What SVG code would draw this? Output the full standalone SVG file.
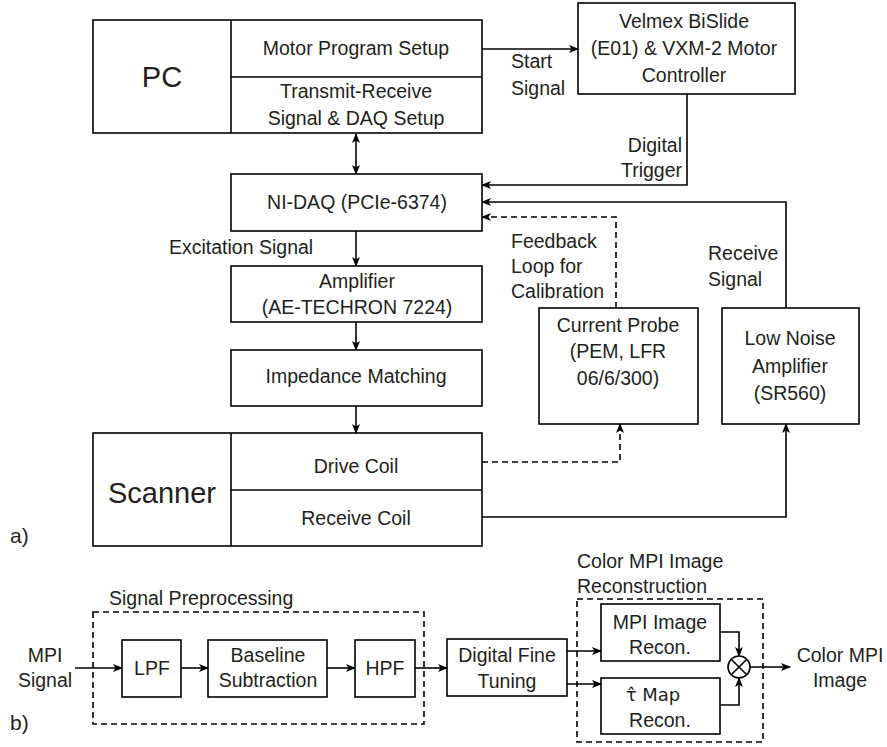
<svg xmlns="http://www.w3.org/2000/svg" width="887" height="747" viewBox="0 0 887 747">
<style>
text{font-family:"Liberation Sans",Arial,sans-serif;font-size:19.5px;fill:#231f20}
.c{text-anchor:middle}
.big{font-size:29px}
.box{fill:#fff;stroke:#000;stroke-width:1.6}
.ln{fill:none;stroke:#000;stroke-width:1.6}
.dash{fill:none;stroke:#000;stroke-width:1.6;stroke-dasharray:6,4}
.ar{marker-end:url(#ah)}
</style>
<defs>
<marker id="ah" viewBox="0 0 10 8" refX="9" refY="4" markerWidth="10" markerHeight="8" markerUnits="userSpaceOnUse" orient="auto-start-reverse">
<path d="M0,0 L10,4 L0,8 L2.5,4 z" fill="#000"/>
</marker>
</defs>
<rect width="887" height="747" fill="#fff"/>

<g id="connectors">
<line class="ln ar" x1="482" y1="49" x2="578" y2="49"/>
<line class="ln ar" x1="356" y1="134" x2="356" y2="174" style="marker-start:url(#ah)"/>
<polyline class="ln ar" points="687,94 687,185 482,185"/>
<polyline class="ln ar" points="786,308 786,202 482,202"/>
<polyline class="dash ar" points="616,308 616,217 482,217"/>
<line class="ln ar" x1="356" y1="231" x2="356" y2="266"/>
<line class="ln ar" x1="356" y1="322" x2="356" y2="350"/>
<line class="ln ar" x1="356" y1="406" x2="356" y2="433"/>
<polyline class="dash ar" points="482,462 620,462 620,424"/>
<polyline class="ln ar" points="482,517 786,517 786,424"/>
<line class="ln ar" x1="75" y1="668" x2="122" y2="668"/>
<line class="ln ar" x1="181" y1="668" x2="208" y2="668"/>
<line class="ln ar" x1="327" y1="668" x2="355" y2="668"/>
<line class="ln ar" x1="415" y1="668" x2="447" y2="668"/>
<line class="ln ar" x1="567" y1="651" x2="601" y2="651"/>
<line class="ln ar" x1="567" y1="684" x2="601" y2="684"/>
<polyline class="ln ar" points="720,632 739,632 739,656"/>
<polyline class="ln ar" points="720,705 739,705 739,678"/>
<line class="ln ar" x1="750" y1="667" x2="790" y2="667"/>
<text x="511" y="68">Start</text>
<text x="511" y="95">Signal</text>
<text x="682" y="152" text-anchor="end">Digital</text>
<text x="682" y="177" text-anchor="end">Trigger</text>
<text x="169" y="254">Excitation Signal</text>
<text x="511" y="248">Feedback</text>
<text x="511" y="273">Loop for</text>
<text x="511" y="298">Calibration</text>
<text x="708" y="260">Receive</text>
<text x="708" y="286">Signal</text>
<text class="c" x="45" y="662">MPI</text>
<text class="c" x="45" y="687">Signal</text>
<text class="c" x="840" y="662">Color MPI</text>
<text class="c" x="840" y="687">Image</text>
</g>

<g id="pc">
<rect class="box" x="93" y="20" width="389" height="113"/>
<line class="ln" x1="231" y1="20" x2="231" y2="133"/>
<line class="ln" x1="231" y1="77" x2="482" y2="77"/>
<text class="c big" x="162" y="87">PC</text>
<text class="c" x="356" y="55">Motor Program Setup</text>
<text class="c" x="356" y="98">Transmit-Receive</text>
<text class="c" x="356" y="125">Signal &amp; DAQ Setup</text>
</g>

<g id="velmex">
<rect class="box" x="578" y="3" width="217" height="91"/>
<text class="c" x="684" y="28">Velmex BiSlide</text>
<text class="c" x="684" y="55">(E01) &amp; VXM-2 Motor</text>
<text class="c" x="684" y="82">Controller</text>
</g>

<g id="nidaq">
<rect class="box" x="231" y="174" width="251" height="57"/>
<text class="c" x="357" y="209">NI-DAQ (PCIe-6374)</text>
</g>

<g id="amplifier">
<rect class="box" x="231" y="266" width="251" height="56"/>
<text class="c" x="357" y="288">Amplifier</text>
<text class="c" x="357" y="314">(AE-TECHRON 7224)</text>
</g>

<g id="impedance">
<rect class="box" x="231" y="350" width="251" height="56"/>
<text class="c" x="356" y="383">Impedance Matching</text>
</g>

<g id="scanner">
<rect class="box" x="93" y="433" width="389" height="113"/>
<line class="ln" x1="231" y1="433" x2="231" y2="546"/>
<line class="ln" x1="231" y1="490" x2="482" y2="490"/>
<text class="c big" x="162" y="503">Scanner</text>
<text class="c" x="356" y="473">Drive Coil</text>
<text class="c" x="356" y="525">Receive Coil</text>
</g>

<g id="currentprobe">
<rect class="box" x="539" y="308" width="159" height="116"/>
<text class="c" x="618" y="332">Current Probe</text>
<text class="c" x="618" y="358">(PEM, LFR</text>
<text class="c" x="618" y="385">06/6/300)</text>
</g>

<g id="lna">
<rect class="box" x="722" y="308" width="137" height="116"/>
<text class="c" x="790" y="345">Low Noise</text>
<text class="c" x="790" y="373">Amplifier</text>
<text class="c" x="790" y="400">(SR560)</text>
</g>

<g id="labels">
<text x="10" y="543" style="font-size:21px">a)</text>
<text x="10" y="730" style="font-size:21px">b)</text>
</g>

<g id="preprocessing">
<rect class="dash" x="93" y="612" width="331" height="112"/>
<text x="109" y="605">Signal Preprocessing</text>
</g>

<g id="lpf">
<rect class="box" x="122" y="640" width="59" height="57"/>
<text class="c" x="152" y="675">LPF</text>
</g>

<g id="baseline">
<rect class="box" x="208" y="640" width="119" height="57"/>
<text class="c" x="268" y="662">Baseline</text>
<text class="c" x="268" y="687">Subtraction</text>
</g>

<g id="hpf">
<rect class="box" x="355" y="640" width="60" height="57"/>
<text class="c" x="385" y="675">HPF</text>
</g>

<g id="dft">
<rect class="box" x="447" y="639" width="120" height="57"/>
<text class="c" x="507" y="662">Digital Fine</text>
<text class="c" x="507" y="688">Tuning</text>
</g>

<g id="reconstruction">
<rect class="dash" x="577" y="599" width="186" height="143"/>
<text x="577" y="568">Color MPI Image</text>
<text x="577" y="593">Reconstruction</text>
</g>

<g id="mpirecon">
<rect class="box" x="601" y="604" width="119" height="57"/>
<text class="c" x="660" y="629">MPI Image</text>
<text class="c" x="660" y="654">Recon.</text>
</g>

<g id="taurecon">
<rect class="box" x="601" y="678" width="119" height="56"/>
<text class="c" x="653" y="701" style="font-family:'DejaVu Sans',sans-serif;font-size:18px">τ&#770; Map</text>
<text class="c" x="660" y="727">Recon.</text>
</g>

<g id="multiply">
<circle class="box" cx="739" cy="667" r="11"/>
<line class="ln" x1="731.2" y1="659.2" x2="746.8" y2="674.8"/>
<line class="ln" x1="746.8" y1="659.2" x2="731.2" y2="674.8"/>
</g>
</svg>
